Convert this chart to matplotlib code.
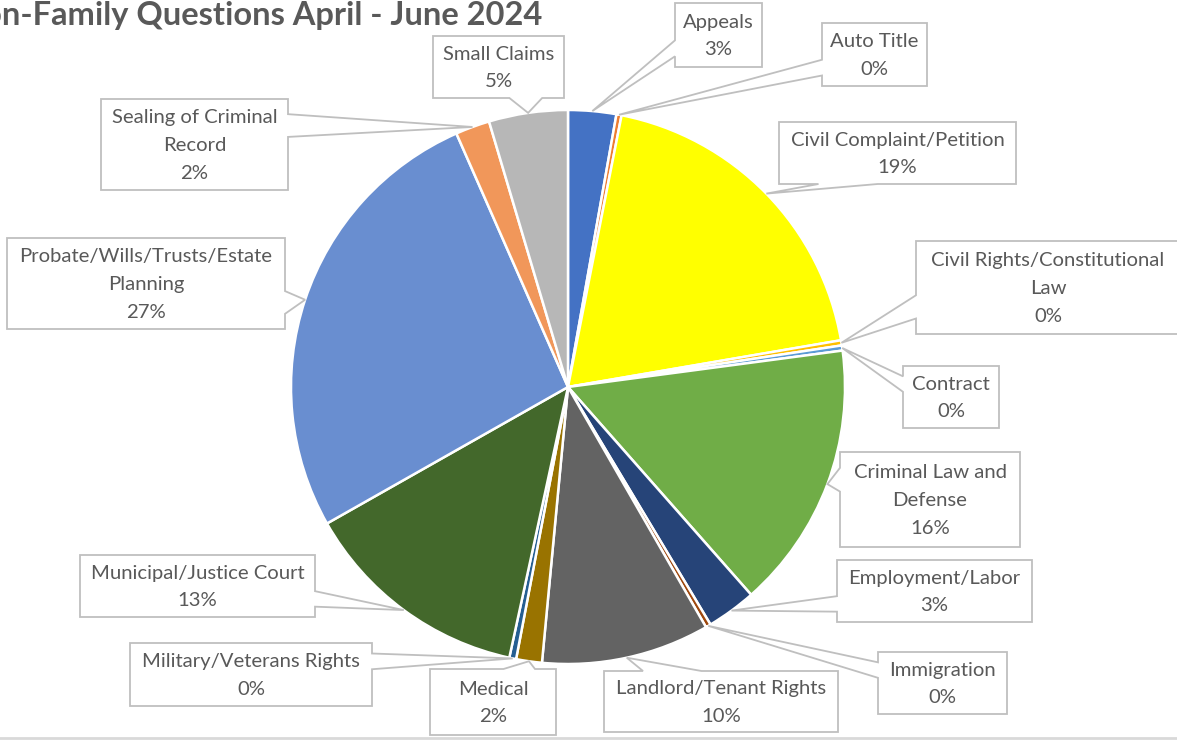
import matplotlib
matplotlib.use("Agg")
import matplotlib.pyplot as plt
from matplotlib.patches import Polygon
import numpy as np

# ---------------- data ----------------
categories = [
    "Appeals", "Auto Title", "Civil Complaint/Petition",
    "Civil Rights/Constitutional Law", "Contract", "Criminal Law and Defense",
    "Employment/Labor", "Immigration", "Landlord/Tenant Rights", "Medical",
    "Military/Veterans Rights", "Municipal/Justice Court",
    "Probate/Wills/Trusts/Estate Planning", "Sealing of Criminal Record",
    "Small Claims",
]
label_texts = [
    "Appeals", "Auto Title", "Civil Complaint/Petition",
    "Civil Rights/Constitutional\nLaw", "Contract", "Criminal Law and\nDefense",
    "Employment/Labor", "Immigration", "Landlord/Tenant Rights", "Medical",
    "Military/Veterans Rights", "Municipal/Justice Court",
    "Probate/Wills/Trusts/Estate\nPlanning", "Sealing of Criminal\nRecord",
    "Small Claims",
]
shares = [2.8, 0.3, 19.2, 0.3, 0.3, 15.6, 2.9, 0.3, 9.8, 1.5, 0.4, 13.4, 26.6, 2.0, 4.6]
colors = [
    "#4472C4", "#ED7D31", "#FFFF00", "#FFC000", "#5B9BD5", "#70AD47",
    "#264478", "#9E480E", "#636363", "#997300", "#255E91", "#43682B",
    "#698ED0", "#F1975A", "#B7B7B7",
]
title = "Non-Family Questions April - June 2024"

# label box rectangles (pixel layout: x0, y0, x1, y1)
boxes = [
    (675, 3, 762, 67), (822, 23, 927, 86), (779, 122, 1016, 184),
    (916, 241, 1180, 334), (903, 366, 999, 428), (840, 452, 1020, 547),
    (837, 560, 1032, 622), (878, 652, 1007, 714), (604, 671, 838, 732),
    (430, 669, 556, 735), (130, 643, 372, 706), (80, 555, 315, 617),
    (7, 238, 285, 329), (101, 99, 288, 190), (433, 36, 564, 98),
]

W, H = 1177, 740
CX, CY, R = 568, 387, 277
TXT = "#595959"
EDGE = "#BFBFBF"

plt.rcParams['font.family'] = ['Lato', 'DejaVu Sans']

fig = plt.figure(figsize=(W / 100, H / 100), dpi=100)
ax = fig.add_axes([0, 0, 1, 1])

wedges, _ = ax.pie(shares, colors=colors, startangle=270, counterclock=True,
                   center=(CX, CY), radius=R,
                   wedgeprops=dict(edgecolor="white", linewidth=1.8))
ax.set_xlim(0, W)
ax.set_ylim(H, 0)
ax.set_aspect('equal')
ax.axis('off')


def callout(x0, y0, x1, y1, tx, ty):
    w = x1 - x0
    h = y1 - y0
    hc = (x0 + x1) / 2
    vc = (y0 + y1) / 2
    dx = tx - hc
    dy = ty - vc
    dq = dx * h / w
    dz = abs(dy) - abs(dq)
    xg1, xg2 = (7, 10) if dx > 0 else (2, 5)
    yg1, yg2 = (7, 10) if dy > 0 else (2, 5)
    X1 = x0 + w * xg1 / 12
    X2 = x0 + w * xg2 / 12
    Y1 = y0 + h * yg1 / 12
    Y2 = y0 + h * yg2 / 12
    pts = [(x0, y0)]
    if dz > 0 and dy < 0:
        pts += [(X1, y0), (tx, ty), (X2, y0)]
    pts += [(x1, y0)]
    if dz <= 0 and dx > 0:
        pts += [(x1, Y1), (tx, ty), (x1, Y2)]
    pts += [(x1, y1)]
    if dz > 0 and dy > 0:
        pts += [(X2, y1), (tx, ty), (X1, y1)]
    pts += [(x0, y1)]
    if dz <= 0 and dx < 0:
        pts += [(x0, Y2), (tx, ty), (x0, Y1)]
    return pts


for wdg, lab, val, box in zip(wedges, label_texts, shares, boxes):
    th = np.deg2rad((wdg.theta1 + wdg.theta2) / 2)
    tx = CX + R * np.cos(th)
    ty = CY + R * np.sin(th)
    pts = callout(*box, tx, ty)
    ax.add_patch(Polygon(pts, closed=True, facecolor="white", edgecolor=EDGE,
                         linewidth=1.3, zorder=3))
    x0, y0, x1, y1 = box
    ax.text((x0 + x1) / 2, (y0 + y1) / 2 + 1, f"{lab}\n{val:.0f}%", ha="center",
            va="center", fontsize=14.6, color=TXT, linespacing=1.78, zorder=4)

ax.text(542, 15, title, ha="right", va="center", fontsize=23.5, fontweight="bold",
        color=TXT)
ax.plot([0, W], [738, 738], color="#D9D9D9", linewidth=2, clip_on=False)

fig.savefig("out.png", dpi=100)
